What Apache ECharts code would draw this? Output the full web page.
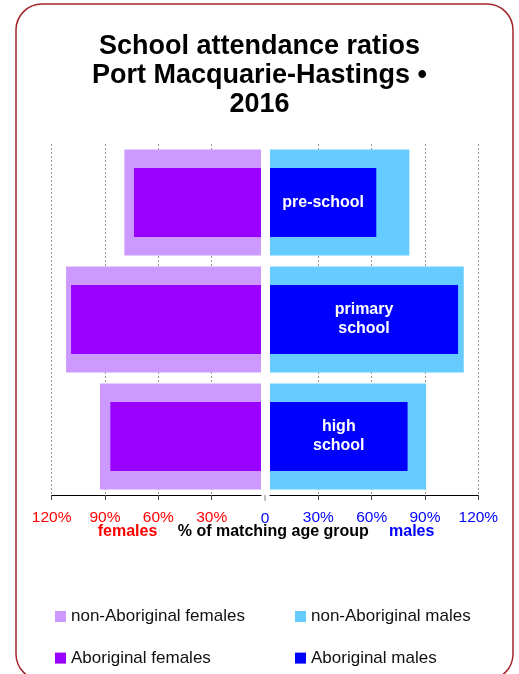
<!DOCTYPE html>
<html><head><meta charset="utf-8">
<script src="https://cdn.jsdelivr.net/npm/echarts@6/dist/echarts.min.js"></script>
<style>html,body{margin:0;padding:0;background:#fff}#c{width:519px;height:674px}</style>
</head><body><div id="c"></div>
<script>
// ---- data ----
const categories = ['pre-school', 'primary school', 'high school'];
const barLabels = ['pre-school', 'primary\nschool', 'high\nschool'];
const nonAbFemales = [79.1, 111.9, 92.8];
const abFemales = [73.7, 109.1, 87.0];
const nonAbMales = [81.2, 111.8, 90.6];
const abMales = [62.6, 108.6, 80.2];
const tickValues = [30, 60, 90, 120];
const axisMax = 120;
const titleText = 'School attendance ratios\nPort Macquarie-Hastings •\n2016';

// ---- layout ----
const SANS = "'Liberation Sans', Arial, sans-serif";
const zeroX = 265, pxPerUnit = 53.333 / 30;
const gTop = 144, gHeight = 351;
const leftR = 261, rightL = 270;
const leftL = zeroX - axisMax * pxPerUnit;
const rightR = zeroX + axisMax * pxPerUnit;
const leftMin = (zeroX - leftR) / pxPerUnit;
const rightMin = (rightL - zeroX) / pxPerUnit;

const C = {nf: '#CC99FF', af: '#9900FF', nm: '#66CCFF', am: '#0000FF'};

function xAxisCfg(idx, inverse, min, color) {
  return {
    type: 'value', gridIndex: idx, inverse: inverse, min: min, max: axisMax,
    axisLine: {show: true, lineStyle: {color: '#000', width: 1}},
    axisTick: {show: true, length: 5, lineStyle: {color: '#444'}, customValues: tickValues},
    axisLabel: {color: color, fontFamily: SANS, fontSize: 15.5, margin: 15,
      customValues: tickValues, formatter: v => v + '%', showMinLabel: true, showMaxLabel: true},
    splitLine: {show: true, lineStyle: {color: '#999', type: [2, 2], width: 1}}
  };
}
function yAxisCfg(idx) {
  return {type: 'category', gridIndex: idx, data: categories, inverse: true, show: false};
}

const chart = echarts.init(document.getElementById('c'), null, {renderer: 'canvas'});
chart.setOption({
  animation: false,
  backgroundColor: '#fff',
  title: {
    text: titleText, left: 'center', top: 32, padding: 0,
    textStyle: {fontFamily: SANS, fontSize: 27, fontWeight: 'bold', lineHeight: 29, color: '#000'}
  },
  legend: [
    {orient: 'vertical', left: 55, top: 608, padding: 0, itemGap: 24.6,
     itemWidth: 11, itemHeight: 11, icon: 'rect',
     data: ['non-Aboriginal females', 'Aboriginal females'],
     textStyle: {fontFamily: SANS, fontSize: 17, lineHeight: 17, color: '#111'}},
    {orient: 'vertical', left: 295, top: 608, padding: 0, itemGap: 24.6,
     itemWidth: 11, itemHeight: 11, icon: 'rect',
     data: ['non-Aboriginal males', 'Aboriginal males'],
     textStyle: {fontFamily: SANS, fontSize: 17, lineHeight: 17, color: '#111'}}
  ],
  grid: [
    {left: leftL, top: gTop, width: leftR - leftL, height: gHeight},
    {left: rightL, top: gTop, width: rightR - rightL, height: gHeight}
  ],
  xAxis: [
    xAxisCfg(0, true, leftMin, '#FF0000'),
    xAxisCfg(1, false, rightMin, '#0000FF')
  ],
  yAxis: [yAxisCfg(0), yAxisCfg(0), yAxisCfg(1), yAxisCfg(1)],
  series: [
    {name: 'non-Aboriginal females', type: 'bar', xAxisIndex: 0, yAxisIndex: 0,
     barWidth: 106, data: nonAbFemales, itemStyle: {color: C.nf}, clip: true},
    {name: 'Aboriginal females', type: 'bar', xAxisIndex: 0, yAxisIndex: 1,
     barWidth: 69, data: abFemales, itemStyle: {color: C.af}, clip: true},
    {name: 'non-Aboriginal males', type: 'bar', xAxisIndex: 1, yAxisIndex: 2,
     barWidth: 106, data: nonAbMales, itemStyle: {color: C.nm}, clip: true},
    {name: 'Aboriginal males', type: 'bar', xAxisIndex: 1, yAxisIndex: 3,
     barWidth: 69, data: abMales, itemStyle: {color: C.am}, clip: true,
     label: {show: true, position: 'inside', color: '#fff', fontFamily: SANS,
       fontSize: 16, fontWeight: 'bold', lineHeight: 19,
       formatter: p => barLabels[p.dataIndex]}}
  ],
  graphic: [
    {type: 'rect', shape: {x: 16, y: 4, width: 497, height: 676, r: 26},
     style: {fill: 'none', stroke: '#a3262b', lineWidth: 1.5}, silent: true},
    {type: 'line', shape: {x1: zeroX, y1: 495, x2: zeroX, y2: 501},
     style: {stroke: '#888', lineWidth: 1}},
    {type: 'text', x: zeroX, y: 518.5,
     style: {text: '0', fill: '#0000FF', fontFamily: SANS, fontSize: 15.5, align: 'center', verticalAlign: 'middle'}},
    {type: 'text', x: 127.5, y: 531.5,
     style: {text: 'females', fill: '#FF0000', fontFamily: SANS, fontSize: 16, fontWeight: 'bold', align: 'center', verticalAlign: 'middle'}},
    {type: 'text', x: 273.3, y: 531.5,
     style: {text: '% of matching age group', fill: '#000', fontFamily: SANS, fontSize: 16, fontWeight: 'bold', align: 'center', verticalAlign: 'middle'}},
    {type: 'text', x: 411.7, y: 531.5,
     style: {text: 'males', fill: '#0000FF', fontFamily: SANS, fontSize: 16, fontWeight: 'bold', align: 'center', verticalAlign: 'middle'}}
  ]
});
</script></body></html>
